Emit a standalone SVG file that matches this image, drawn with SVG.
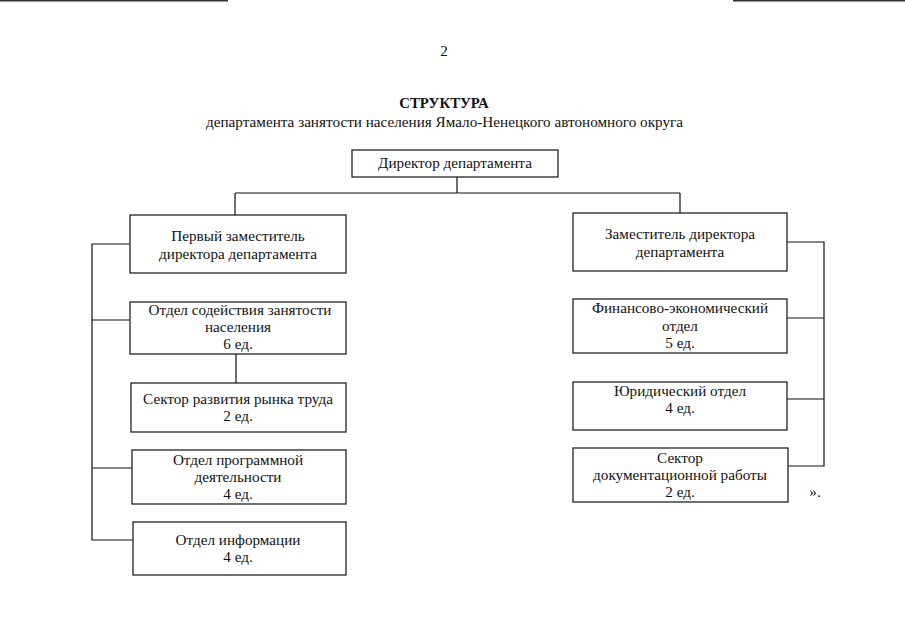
<svg xmlns="http://www.w3.org/2000/svg" width="905" height="640" viewBox="0 0 905 640">
<style>
text{font-family:"Liberation Serif","Times New Roman",serif;font-size:15.2px;fill:#111;text-anchor:middle}
.b{font-weight:bold;font-size:14.8px}
.box{fill:#fff;stroke:#222;stroke-width:1.3}
.ln{fill:none;stroke:#111;stroke-width:1.2}
.scan{stroke:#333;stroke-width:1.5}
</style>
<rect width="905" height="640" fill="#fff"/>
<line class="scan" x1="0" y1="0.7" x2="228" y2="0.7"/>
<line class="scan" x1="733" y1="0.7" x2="905" y2="0.7"/>
<text x="444" y="56">2</text>
<text class="b" x="444" y="108">СТРУКТУРА</text>
<text x="444.5" y="127">департамента занятости населения Ямало-Ненецкого автономного округа</text>
<g id="connectors">
<path class="ln" d="M457 177V193M235 193H680M235 193V215M680 193V213"/>
<path class="ln" d="M130 244H92V540H133M92 320H130M92 468H132M236 354V383"/>
<path class="ln" d="M787 242H824V466H788M787 318H824M787 399H824"/>
</g>
<g id="director"><rect class="box" x="352" y="150" width="206" height="27"/><text x="455" y="168">Директор департамента</text></g>
<g id="deputy1"><rect class="box" x="130" y="215" width="216" height="58"/><text x="238" y="241">Первый заместитель</text><text x="238" y="259">директора департамента</text></g>
<g id="dept-employment"><rect class="box" x="130" y="302" width="216" height="52"/><text x="240" y="315">Отдел содействия занятости</text><text x="238" y="332">населения</text><text x="238" y="349">6 ед.</text></g>
<g id="sector-labor"><rect class="box" x="131" y="383" width="215" height="49"/><text x="238" y="404">Сектор развития рынка труда</text><text x="238" y="421">2 ед.</text></g>
<g id="dept-program"><rect class="box" x="132" y="450" width="214" height="54"/><text x="238" y="465">Отдел программной</text><text x="238" y="482">деятельности</text><text x="238" y="499">4 ед.</text></g>
<g id="dept-info"><rect class="box" x="133" y="522" width="213" height="53"/><text x="238" y="545">Отдел информации</text><text x="238" y="562">4 ед.</text></g>
<g id="deputy2"><rect class="box" x="573" y="213" width="214" height="58"/><text x="680" y="239">Заместитель директора</text><text x="680" y="257">департамента</text></g>
<g id="dept-finance"><rect class="box" x="573" y="299" width="214" height="54"/><text x="680" y="313">Финансово-экономический</text><text x="680" y="331">отдел</text><text x="680" y="348">5 ед.</text></g>
<g id="dept-legal"><rect class="box" x="573" y="382" width="214" height="48"/><text x="680" y="396">Юридический отдел</text><text x="680" y="413">4 ед.</text></g>
<g id="sector-docs"><rect class="box" x="573" y="448" width="215" height="54"/><text x="680" y="463">Сектор</text><text x="680" y="480">документационной работы</text><text x="680" y="497">2 ед.</text></g>
<text x="815" y="497">».</text>
</svg>
